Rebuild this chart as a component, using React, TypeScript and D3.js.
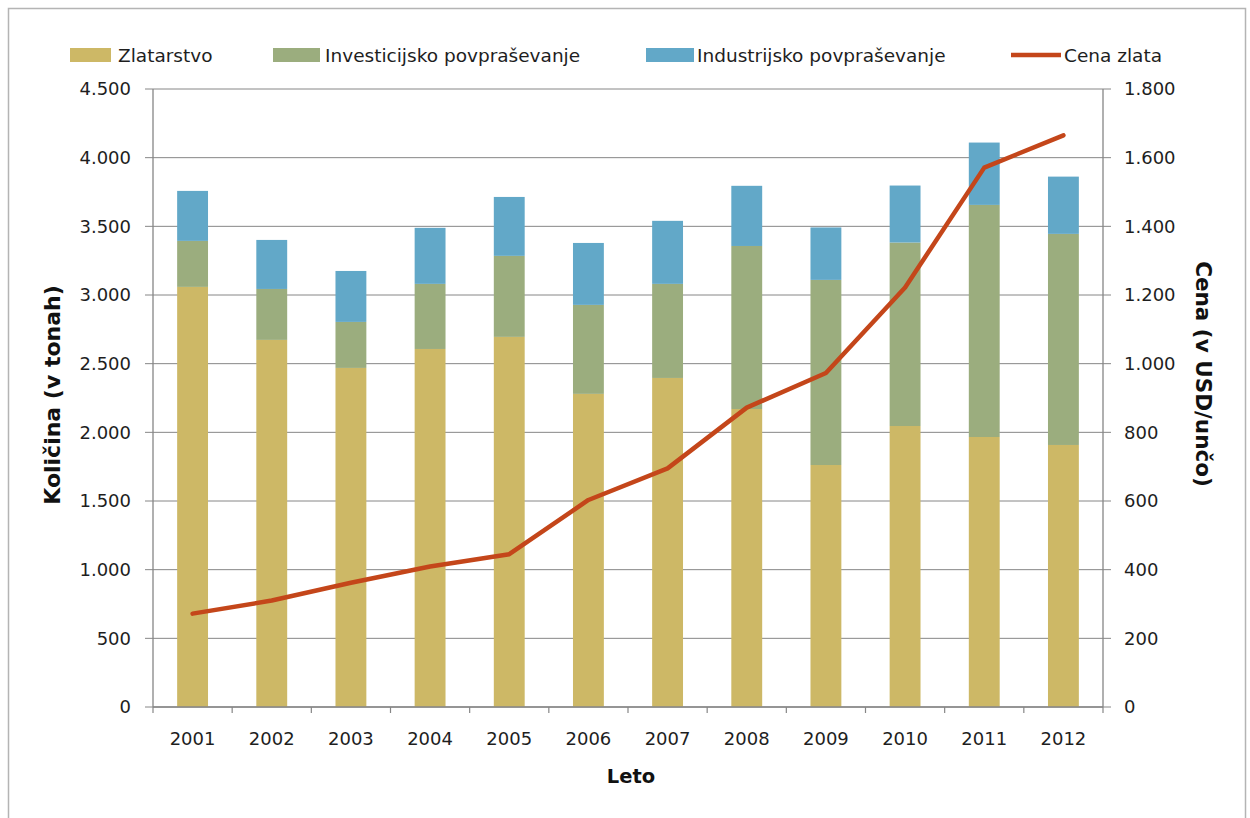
import React from "react";
import * as d3 from "d3";

const years = ["2001", "2002", "2003", "2004", "2005", "2006", "2007", "2008", "2009", "2010", "2011", "2012"];
const jewellery = [3059, 2673, 2469, 2607, 2695, 2280, 2396, 2170, 1762, 2046, 1966, 1908];
const investment = [335, 371, 335, 474, 590, 648, 685, 1187, 1348, 1336, 1690, 1537];
const industrial = [364, 357, 371, 408, 429, 451, 459, 438, 382, 415, 454, 417];
const goldPrice = [272, 310, 362, 409, 445, 603, 695, 872, 973, 1222, 1571, 1665];
const leftTicks = [0, 500, 1000, 1500, 2000, 2500, 3000, 3500, 4000, 4500];
const rightTicks = [0, 200, 400, 600, 800, 1000, 1200, 1400, 1600, 1800];

const seriesNames = ["Zlatarstvo", "Investicijsko povpraševanje", "Industrijsko povpraševanje"];
const seriesColors = ["#CDB866", "#9BAD7E", "#62A8C8"];
const lineName = "Cena zlata";
const lineColor = "#C4461A";

const W = 1250;
const H = 818;
const left = 153;
const right = 1103;
const top = 89;
const bottom = 707;

const fmt = (v: number) => {
  const s = String(v);
  return s.length > 3 ? s.slice(0, s.length - 3) + "." + s.slice(-3) : s;
};

export default function App() {
  const x = d3.scaleBand<string>().domain(years).range([left, right]).paddingInner(0.61).paddingOuter(0.305);
  const yL = d3.scaleLinear().domain([0, 4500]).range([bottom, top]);
  const yR = d3.scaleLinear().domain([0, 1800]).range([bottom, top]);

  const rows = years.map((yr, i) => ({ yr, a: jewellery[i], b: investment[i], c: industrial[i] }));
  const stack = d3.stack<any>().keys(["a", "b", "c"])(rows);

  const line = d3
    .line<number>()
    .x((_, i) => (x(years[i]) as number) + x.bandwidth() / 2)
    .y((d) => yR(d));

  const step = (right - left) / years.length;
  const font = "'DejaVu Sans', Verdana, sans-serif";
  const tickColor = "#868686";
  const textColor = "#1e1e1e";

  const legendItems = [
    { label: seriesNames[0], color: seriesColors[0], sx: 70, ex: 111, tx: 118, kind: "rect" },
    { label: seriesNames[1], color: seriesColors[1], sx: 273, ex: 320, tx: 325, kind: "rect" },
    { label: seriesNames[2], color: seriesColors[2], sx: 646, ex: 694, tx: 697, kind: "rect" },
    { label: lineName, color: lineColor, sx: 1011, ex: 1061, tx: 1064, kind: "line" },
  ];

  return (
    <svg width={W} height={H} style={{ position: "absolute", left: 0, top: 0, background: "#fff" }} fontFamily={font}>
      <rect x={8.5} y={8.5} width={1237} height={830} fill="#fff" stroke="#b4b4b4" strokeWidth={1.5} />

      {/* horizontal gridlines and left ticks */}
      {leftTicks.map((t) => (
        <g key={"g" + t}>
          <line x1={left - 8} x2={right} y1={yL(t)} y2={yL(t)} stroke={tickColor} strokeWidth={1} />
          <text x={131} y={yL(t)} dy="0.36em" textAnchor="end" fontSize={18} fill={textColor}>
            {fmt(t)}
          </text>
        </g>
      ))}

      {/* stacked bars */}
      {stack.map((layer, li) =>
        layer.map((d, i) => (
          <rect
            key={li + "-" + i}
            x={x(years[i])}
            width={x.bandwidth()}
            y={yL(d[1])}
            height={yL(d[0]) - yL(d[1])}
            fill={seriesColors[li]}
          />
        ))
      )}

      {/* axes */}
      <line x1={left} x2={left} y1={top} y2={bottom} stroke={tickColor} strokeWidth={1.3} />
      <line x1={right} x2={right} y1={top} y2={bottom} stroke={tickColor} strokeWidth={1.3} />
      <line x1={left} x2={right} y1={bottom} y2={bottom} stroke={tickColor} strokeWidth={1.3} />
      {d3.range(years.length + 1).map((i) => (
        <line key={"xt" + i} x1={left + i * step} x2={left + i * step} y1={bottom} y2={bottom + 6} stroke={tickColor} strokeWidth={1.2} />
      ))}
      {years.map((yr) => (
        <text key={"xl" + yr} x={(x(yr) as number) + x.bandwidth() / 2} y={739} dy="0.36em" textAnchor="middle" fontSize={18} fill={textColor}>
          {yr}
        </text>
      ))}
      {rightTicks.map((t) => (
        <g key={"r" + t}>
          <line x1={right} x2={right + 8} y1={yR(t)} y2={yR(t)} stroke={tickColor} strokeWidth={1} />
          <text x={1124} y={yR(t)} dy="0.36em" textAnchor="start" fontSize={18} fill={textColor}>
            {fmt(t)}
          </text>
        </g>
      ))}

      {/* price line */}
      <path d={line(goldPrice) || ""} fill="none" stroke={lineColor} strokeWidth={4.5} strokeLinejoin="round" strokeLinecap="round" />

      {/* axis titles */}
      <text transform="translate(52,395) rotate(-90)" textAnchor="middle" dy="0.36em" fontSize={22} fontWeight="bold" fill="#111">
        Količina (v tonah)
      </text>
      <text transform="translate(1204,374) rotate(90)" textAnchor="middle" dy="0.36em" fontSize={21.5} fontWeight="bold" fill="#111">
        Cena (v USD/unčo)
      </text>
      <text x={631} y={776} textAnchor="middle" dy="0.36em" fontSize={19.5} fontWeight="bold" fill="#111">
        Leto
      </text>

      {/* legend */}
      {legendItems.map((it) => (
        <g key={it.label}>
          {it.kind === "rect" ? (
            <rect x={it.sx} y={48} width={it.ex - it.sx} height={14} fill={it.color} />
          ) : (
            <line x1={it.sx} x2={it.ex} y1={55} y2={55} stroke={it.color} strokeWidth={4.5} />
          )}
          <text x={it.tx} y={55} dy="0.36em" fontSize={18.5} fill={textColor}>
            {it.label}
          </text>
        </g>
      ))}
    </svg>
  );
}
